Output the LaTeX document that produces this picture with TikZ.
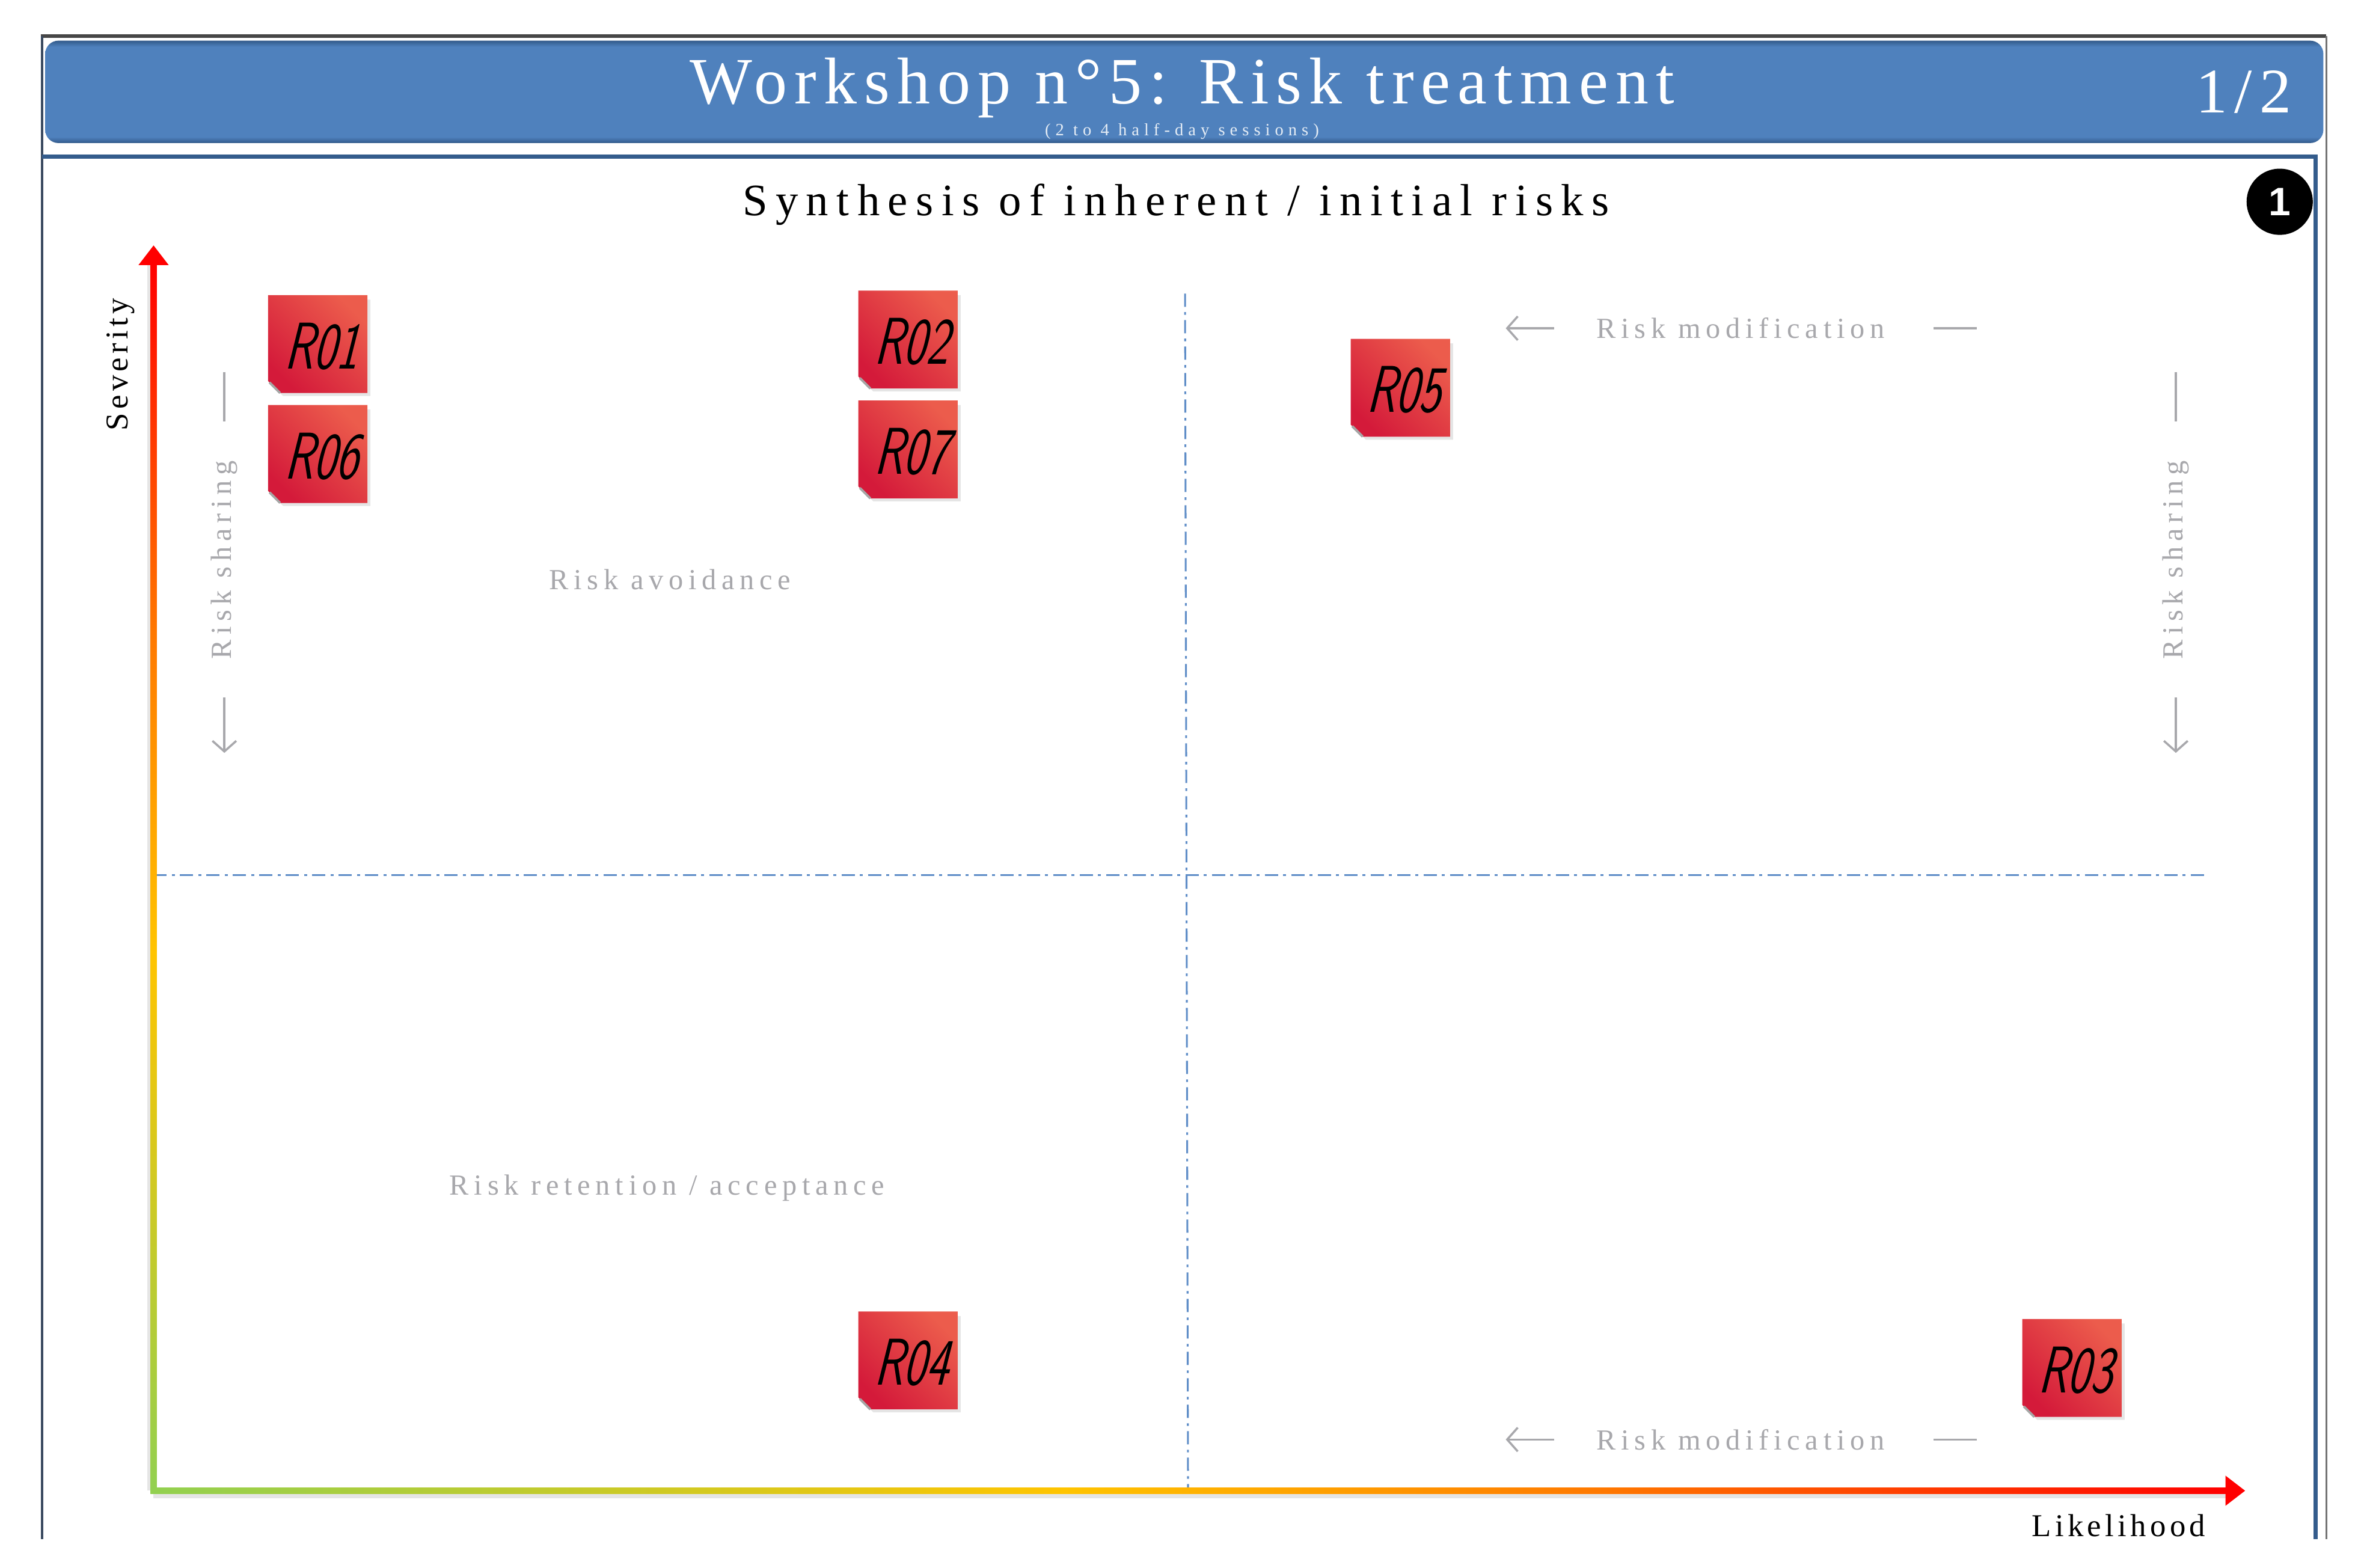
\documentclass[tikz,border=0pt]{standalone}
\usepackage{fontspec}
\setmainfont{Liberation Serif}
\newfontfamily\ttlfont[LetterSpace=11]{Liberation Serif}
\newfontfamily\synfont[LetterSpace=18]{Liberation Serif}
\newfontfamily\tinyfont[LetterSpace=28]{Liberation Serif}
\newfontfamily\lblfont[LetterSpace=18]{Liberation Serif}
\newfontfamily\axfont[LetterSpace=12]{Liberation Serif}
\newfontfamily\handfont[FakeStretch=0.72,FakeSlant=0.25]{Latin Modern Sans}
\newfontfamily\numfont{Liberation Sans}
\usetikzlibrary{arrows.meta,calc}
\definecolor{bmain}{RGB}{79,129,189}
\definecolor{bdark}{RGB}{50,90,138}
\definecolor{framegray}{RGB}{70,70,70}
\definecolor{frameslate}{RGB}{58,74,96}
\definecolor{frameblue}{RGB}{52,92,140}
\definecolor{lblgray}{RGB}{168,168,172}
\definecolor{dashblue}{RGB}{96,142,200}
\definecolor{axgreen}{RGB}{146,208,80}
\definecolor{axyellow}{RGB}{255,196,0}
\definecolor{axorange}{RGB}{255,120,0}
\definecolor{axred}{RGB}{255,0,0}
\definecolor{notelight}{RGB}{236,92,76}
\definecolor{notedark}{RGB}{212,26,58}
\pgfdeclarehorizontalshading{haxis}{100bp}{color(0bp)=(axgreen); color(25bp)=(axgreen); color(47bp)=(axyellow); color(60bp)=(axorange); color(75bp)=(axred); color(100bp)=(axred)}
\pgfdeclareverticalshading{vaxis}{100bp}{color(0bp)=(axgreen); color(25bp)=(axgreen); color(47bp)=(axyellow); color(60bp)=(axorange); color(75bp)=(axred); color(100bp)=(axred)}
\pgfdeclareverticalshading{bannershade}{100bp}{color(0bp)=(bdark); color(25bp)=(bdark); color(28bp)=(bmain); color(72bp)=(bmain); color(75bp)=(bdark); color(100bp)=(bdark)}
\newcommand\stickynote[4]{%
  \fill[black,opacity=0.10] (#2+2,#3+3) -- (#2+68,#3+3) -- (#2+68,#3+67) -- (#2+10,#3+67) -- (#2+2,#3+59) -- cycle;
  \shade[bottom color=notedark, top color=notelight, shading angle=-45]
    (#2+8,#3+65) -- (#2+66,#3+65) -- (#2+66,#3) -- (#2,#3) -- (#2,#3+57) -- cycle;
  \draw[black!35, line width=0.9pt] (#2+1,#3+58) -- (#2+8,#3+65);
  \node[notetext] (#1) at (#2+35,#3+34) {#4};
}
\begin{document}
\begin{tikzpicture}[x=0.02cm,y=-0.02cm,
  lbl/.style={text=lblgray, font=\lblfont\fontsize{11}{13}\selectfont, inner sep=0pt},
  axlbl/.style={text=black, font=\axfont\fontsize{12}{14}\selectfont, inner sep=0pt},
  notetext/.style={font=\handfont\fontsize{25}{27}\selectfont, text=black, inner sep=0pt},
  grayline/.style={draw=lblgray, line width=0.8pt},
  grayarrow/.style={grayline, -{Straight Barb[length=4pt,width=9pt]}},
  quaddash/.style={draw=dashblue, line width=0.7pt, dash pattern=on 5pt off 2pt on 1pt off 2pt}]
\useasboundingbox (0,0) rectangle (1568,1041);
\fill[white] (0,0) rectangle (1568,1041);
% frames
\draw[framegray, line width=1.2pt] (27,24) -- (1545,24);
\draw[frameslate, line width=1.0pt] (28,24) -- (28,1022);
\draw[black!55, line width=0.7pt] (1545,24) -- (1545,1022);
\shade[shading=bannershade, rounded corners=5pt] (30,27) rectangle (1543,95);
\draw[frameblue, line width=1.6pt] (28,104) -- (1538,104) -- (1538,1022);
% banner texts
\node[anchor=base, text=white, font=\ttlfont\fontsize{25}{28}\selectfont, inner sep=0pt] (title) at (785,69) {Workshop n°5: Risk treatment};
\node[anchor=base, text=white!85!bmain, font=\tinyfont\fontsize{6.5}{7}\selectfont, inner sep=0pt] (sessions) at (785,90) {(2 to 4 half-day sessions)};
\node[anchor=base, text=white, font=\ttlfont\fontsize{24}{26}\selectfont, inner sep=0pt] (page) at (1490,75) {1/2};
\node[anchor=base, text=black, font=\synfont\fontsize{17}{20}\selectfont, inner sep=0pt] (synth) at (781,143) {Synthesis of inherent / initial risks};
\node[circle, fill=black, minimum size=0.88cm, inner sep=0pt, text=white, font=\numfont\bfseries\fontsize{15}{16}\selectfont] (one) at (1514,134) {1};
% quadrant lines
\coordinate (O) at (102,990);
\coordinate (Ytip) at (102,163);
\coordinate (Xtip) at (1491,990);
\coordinate (hL) at (102,581);
\coordinate (hR) at (1465,581);
\coordinate (vT) at (787,195);
\coordinate (vB) at (789,990);
\draw[quaddash] (hL) -- (hR);
\draw[quaddash] (vT) -- (vB);
% axes
\fill[black,opacity=0.10] ($(O)+(0,2)$) rectangle ($(Xtip)+(-12,5)$);
\fill[black,opacity=0.10] ($(O)+(-4,0)$) rectangle ($(Ytip)+(-2,13)$);
\shade[shading=haxis] ($(O)+(-2,-2)$) rectangle ($(Xtip)+(-12,2)$);
\shade[shading=vaxis] ($(O)+(-2,2)$) rectangle ($(Ytip)+(2,12)$);
\fill[axred] ($(Xtip)+(-13,-10)$) -- (Xtip) -- ($(Xtip)+(-13,10)$) -- cycle;
\fill[axred] ($(Ytip)+(-10,13)$) -- (Ytip) -- ($(Ytip)+(10,13)$) -- cycle;
\node[axlbl, rotate=90] (sev) at (80,242) {Severity};
\node[axlbl] (lik) at (1407,1013) {Likelihood};
% treatment labels
\node[lbl] (avoid) at (445,385) {Risk avoidance};
\node[lbl] (retain) at (443,789) {Risk retention / acceptance};
\node[lbl] (modTop) at (1156,218) {Risk modification};
\node[lbl] (modBot) at (1156,956) {Risk modification};
\node[lbl, rotate=90] (shareL) at (149,372) {Risk sharing};
\node[lbl, rotate=90] (shareR) at (1445,372) {Risk sharing};
\draw[grayarrow] ($(modTop.center)+(-124,0)$) -- ++(-32,0);
\draw[grayline] ($(modTop.center)+(128,0)$) -- ++(29,0);
\draw[grayarrow] ($(modBot.center)+(-124,0)$) -- ++(-32,0);
\draw[grayline] ($(modBot.center)+(128,0)$) -- ++(29,0);
\draw[grayline] ($(shareL.center)+(0,-125)$) -- ++(0,33);
\draw[grayarrow] ($(shareL.center)+(0,91)$) -- ++(0,37);
\draw[grayline] ($(shareR.center)+(0,-125)$) -- ++(0,33);
\draw[grayarrow] ($(shareR.center)+(0,91)$) -- ++(0,37);
% risks
\stickynote{r01}{178}{196}{R01}
\stickynote{r06}{178}{269}{R06}
\stickynote{r02}{570}{193}{R02}
\stickynote{r07}{570}{266}{R07}
\stickynote{r05}{897}{225}{R05}
\stickynote{r04}{570}{871}{R04}
\stickynote{r03}{1343}{876}{R03}
\end{tikzpicture}
\end{document}
